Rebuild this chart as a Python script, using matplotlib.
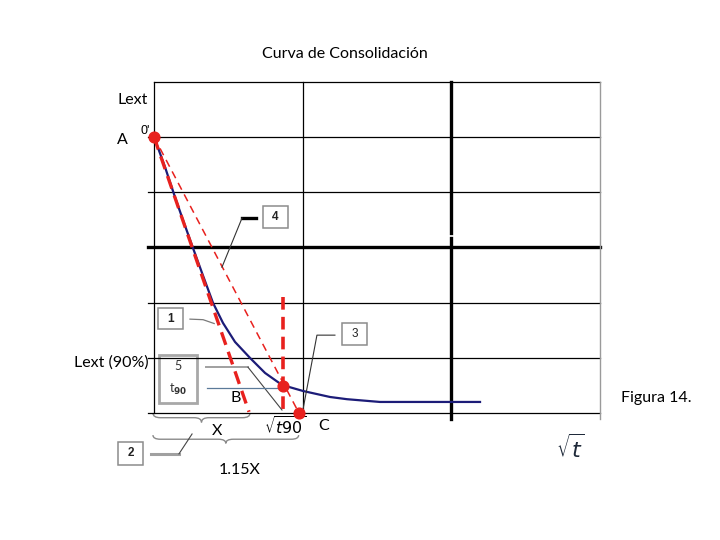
import matplotlib
matplotlib.use("Agg")
import matplotlib.pyplot as plt
from matplotlib.patches import Rectangle, PathPatch
from matplotlib.path import Path

# ─────────────────────────────────────────────
# Data (x = sqrt(t) grid units, y = lectura grid units, down = larger)
# ─────────────────────────────────────────────

grid_cols = [0, 1, 2, 3]
grid_rows = [0, 1, 2, 3, 4, 5, 6]

curve_x = [0.0, 0.074, 0.141, 0.195, 0.262, 0.323, 0.397, 0.464, 0.545,
           0.646, 0.747, 0.861, 1.002, 1.184, 1.298, 1.520, 2.193]
curve_y = [1.0, 1.545, 2.088, 2.505, 3.010, 3.463, 4.006, 4.369, 4.713,
           5.003, 5.275, 5.492, 5.601, 5.710, 5.750, 5.800, 5.800]

tangent_x = [0.0, 0.639]      # initial tangent (thick dashed)
tangent_y = [1.0, 5.98]
corrected_x = [0.0, 0.975]    # 1.15X line (thin dashed)
corrected_y = [1.0, 6.0]
t90_x = 0.868
t90_y = [3.90, 6.0]

point_names = ["A", "B", "C"]
point_x = [0.0, 0.868, 0.975]
point_y = [1.0, 5.51, 6.0]

RED = "#e8211e"
NAVY = "#1c1c78"
GRAY = "#8c8c8c"
FONT = ["Lato", "DejaVu Sans"]
FS = 11.5

fig = plt.figure(figsize=(7.2, 5.4), dpi=100)
ax = fig.add_axes([154 / 720, 1 - 413 / 540, 446 / 720, (413 - 81.7) / 540])
ax.set_xlim(0, 3)
ax.set_ylim(6, 0)
ax.axis("off")


def line(xs, ys, **kw):
    ax.plot(xs, ys, clip_on=False, **kw)


# ── grid ─────────────────────────────────────
line([0, 3], [0, 0], color="black", lw=0.9)
for r in grid_rows[1:]:
    line([-0.04, 3], [r, r], color="black", lw=2.4 if r == 3 else 0.9)
line([0, 0], [0, 6], color="black", lw=0.9)
line([1, 1], [0, 6], color="black", lw=0.9)
line([2, 2], [0, 2.74], color="black", lw=2.4)
line([2, 2], [2.83, 6.1], color="black", lw=2.4)
line([3, 3], [0, 6.1], color="#9a9a9a", lw=1.0)

# ── construction lines ───────────────────────
line(corrected_x, corrected_y, color=RED, lw=1.1, ls=(0, (5, 3.5)))
line(curve_x, curve_y, color=NAVY, lw=1.6, solid_joinstyle="round")
line(tangent_x, tangent_y, color=RED, lw=2.4, ls=(0, (4, 2.2)), zorder=3)
line([t90_x, t90_x], t90_y, color=RED, lw=2.6, ls=(0, (3.5, 2)))
ax.scatter(point_x, point_y, s=60, color=RED, zorder=5, clip_on=False)

# ── callout boxes ────────────────────────────
def box(x0, x1, y0, y1, ec=GRAY, lw=1.1):
    ax.add_patch(Rectangle((x0, y0), x1 - x0, y1 - y0, fill=False,
                           ec=ec, lw=lw, clip_on=False))


box(0.027, 0.195, 4.10, 4.48)
ax.text(0.111, 4.30, "1", ha="center", va="center", fontsize=8.5,
        fontweight="bold", family="Liberation Sans", color="#222222")
line([0.242, 0.33, 0.405], [4.30, 4.31, 4.38], color="#7a7a7a", lw=0.9)

box(0.034, 0.289, 4.95, 5.82, ec="#a8a8a8", lw=2.0)
ax.text(0.161, 5.15, "5", ha="center", va="center", fontsize=9,
        family=FONT, color="#333333")
ax.text(0.161, 5.58, r"t$_{\mathbf{90}}$", ha="center", va="center",
        fontsize=9, family=FONT, color="#333333")
line([0.350, 0.632], [5.17, 5.17], color="#a0a0a0", lw=1.4)
line([0.632, 0.861], [5.17, 5.946], color="#444444", lw=0.8)
line([0.356, t90_x], [5.55, 5.55], color="#5b7a99", lw=0.9)

box(1.265, 1.433, 4.37, 4.77)
ax.text(1.349, 4.57, "3", ha="center", va="center", fontsize=8.5,
        family="Liberation Sans", color="#222222")
line([1.217, 1.096, 0.995], [4.59, 4.59, 6.04], color="#333333", lw=0.8)

box(0.733, 0.901, 2.25, 2.65)
ax.text(0.817, 2.45, "4", ha="center", va="center", fontsize=8.5,
        fontweight="bold", family="Liberation Sans", color="#222222")
line([0.592, 0.686], [2.47, 2.47], color="black", lw=2.4)
line([0.592, 0.457], [2.47, 3.36], color="#333333", lw=0.8)

box(-0.242, -0.074, 6.52, 6.94)
ax.text(-0.158, 6.73, "2", ha="center", va="center", fontsize=8.5,
        fontweight="bold", family="Liberation Sans", color="#222222")
line([-0.020, 0.168], [6.74, 6.74], color="#a0a0a0", lw=2.2)
line([0.168, 0.256], [6.74, 6.38], color="#444444", lw=0.8)


# ── braces ───────────────────────────────────
def brace(x0, x1, y, h, w=0.05):
    xm = (x0 + x1) / 2
    mid = y + h / 2
    verts = [(x0, y), (x0, mid), (x0 + w, mid),
             (xm - w, mid),
             (xm, mid), (xm, y + h),
             (xm, mid), (xm + w, mid),
             (x1 - w, mid),
             (x1, mid), (x1, y)]
    codes = [Path.MOVETO, Path.CURVE3, Path.CURVE3,
             Path.LINETO,
             Path.CURVE3, Path.CURVE3,
             Path.CURVE3, Path.CURVE3,
             Path.LINETO,
             Path.CURVE3, Path.CURVE3]
    ax.add_patch(PathPatch(Path(verts, codes), fill=False, ec="#8a8a8a",
                           lw=1.0, clip_on=False))


brace(-0.007, 0.646, 6.0, 0.17)
brace(-0.007, 0.973, 6.40, 0.15)

# ── labels ───────────────────────────────────
fig.suptitle("Curva de Consolidación", x=345 / 720, y=1 - 54 / 540,
             va="center", fontsize=FS, family=FONT)
ax.text(-0.141, 0.33, "Lext", ha="center", va="center", fontsize=FS, family=FONT)
ax.text(-0.215, 1.06, point_names[0], ha="center", va="center", fontsize=FS, family=FONT)
ax.text(-0.06, 0.90, "0'", ha="center", va="center", fontsize=9,
        family="Liberation Sans")
ax.text(-0.289, 5.09, "Lext (90%)", ha="center", va="center", fontsize=FS, family=FONT)
ax.text(0.552, 5.73, point_names[1], ha="center", va="center", fontsize=FS, family=FONT)
ax.text(1.143, 6.24, point_names[2], ha="center", va="center", fontsize=FS, family=FONT)
ax.text(0.881, 6.25, r"$\sqrt{t90}$", ha="center", va="center", fontsize=FS)
ax.text(0.424, 6.33, "X", ha="center", va="center", fontsize=FS, family=FONT)
ax.text(0.578, 7.03, "1.15X", ha="center", va="center", fontsize=FS, family=FONT)
ax.text(2.798, 6.63, r"$\sqrt{t}$", ha="center", va="center", fontsize=16,
        color="#1f2a3a")
ax.text(3.377, 5.73, "Figura 14.", ha="center", va="center", fontsize=FS,
        family=FONT)

fig.savefig("out.png", dpi=100)
